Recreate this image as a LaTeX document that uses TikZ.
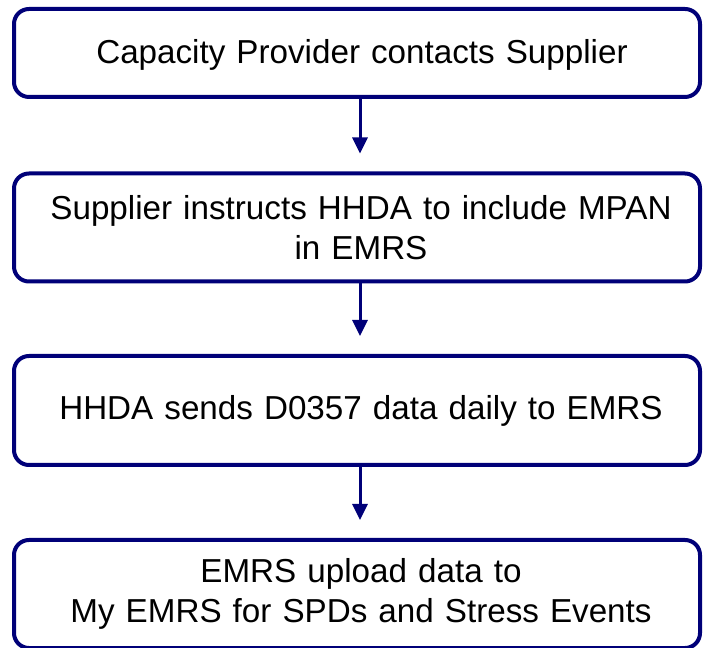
\documentclass[tikz,border=0pt]{standalone}
\usepackage{fontspec}
\setmainfont{Liberation Sans}
\usetikzlibrary{arrows.meta}
\definecolor{boxnavy}{RGB}{0,0,120}
\begin{document}
\begin{tikzpicture}[x=1pt,y=1pt,
	stepbox/.style={draw=boxnavy,line width=4pt,rounded corners=15pt,rectangle,minimum width=686pt,inner sep=0pt},
	steptext/.style={font=\fontsize{33.2}{40}\selectfont,align=center,text width=680pt,inner sep=0pt},
	flow/.style={draw=boxnavy,line width=3pt,-{Triangle[width=15pt,length=16pt]},shorten >=18pt}]

	\useasboundingbox (0,0) rectangle (703,647);

	% boxes
	\node[stepbox,minimum height=88pt]  (b1) at (357,594)   {};
	\node[stepbox,minimum height=108pt] (b2) at (357,419.5) {};
	\node[stepbox,minimum height=109pt] (b3) at (357,236.5) {};
	\node[stepbox,minimum height=108pt] (b4) at (357,53)    {};

	% texts
	\node[steptext] (t1) at ([xshift=5pt,yshift=-2pt]b1.center) {Capacity Provider contacts Supplier};
	\node[steptext] (t2) at ([xshift=4pt]b2.center) {Supplier instructs HHDA to include MPAN\\in EMRS};
	\node[steptext] (t3) at ([xshift=4pt]b3.center) {HHDA sends D0357 data daily to EMRS};
	\node[steptext] (t4) at ([xshift=4pt]b4.center) {EMRS upload data to\\My EMRS for SPDs and Stress Events};

	% arrows
	\draw[flow] ([xshift=3pt]b1.south) -- ([xshift=3pt]b2.north);
	\draw[flow] ([xshift=3pt]b2.south) -- ([xshift=3pt]b3.north);
	\draw[flow] ([xshift=3pt]b3.south) -- ([xshift=3pt]b4.north);

\end{tikzpicture}
\end{document}
